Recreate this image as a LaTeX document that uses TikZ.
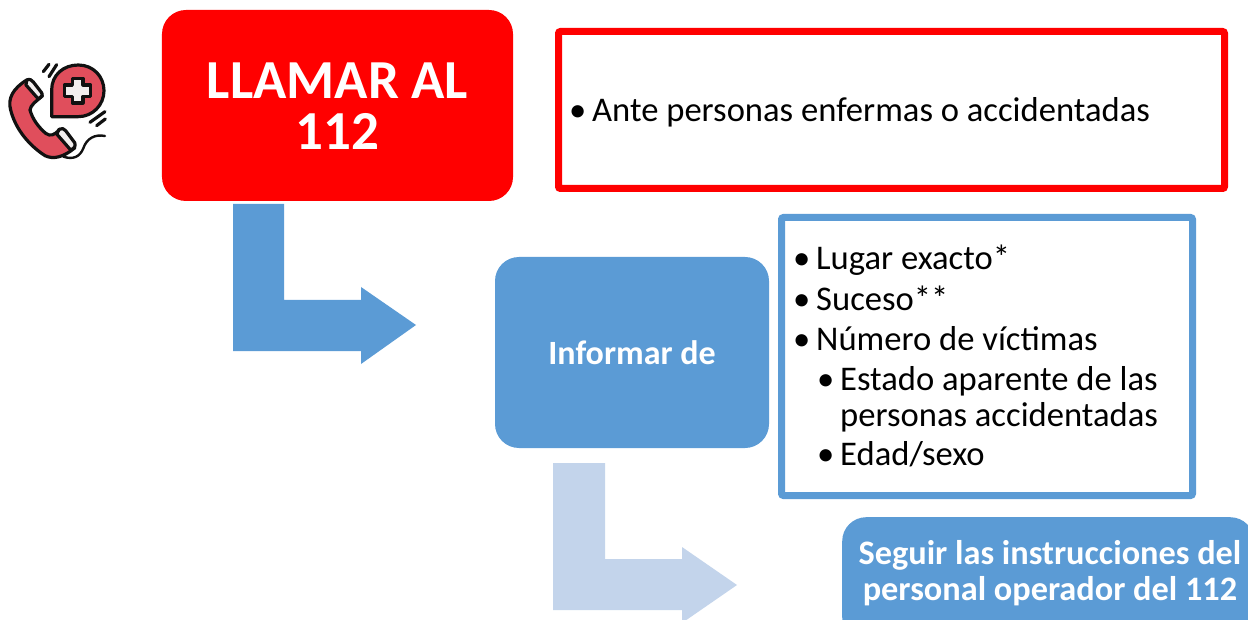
\documentclass[tikz,border=0pt]{standalone}
\usepackage{fontspec}
\setmainfont{Carlito}
\definecolor{bluefill}{HTML}{5B9BD5}
\definecolor{paleblue}{HTML}{C3D4EB}
\definecolor{iconred}{HTML}{E04E5C}
\definecolor{iconink}{HTML}{111111}
\definecolor{iconwhite}{HTML}{F2EEEE}
\tikzset{
  redbox/.style={draw=none,fill=red,rounded corners=24bp,minimum width=351bp,minimum height=191bp,inner sep=0pt,align=center,text=white,font=\fontsize{55bp}{51bp}\selectfont\bfseries},
  bluebox/.style={draw=none,fill=bluefill,rounded corners=24bp,inner sep=0pt,align=center,text=white,font=\fontsize{34bp}{36bp}\selectfont\bfseries},
  framebox/.style={fill=white,line width=7bp,rounded corners=2bp,inner sep=0pt},
  bodytext/.style={anchor=base west,inner sep=0pt,text=black,font=\fontsize{34.6bp}{36bp}\selectfont},
  bendarrow/.style={draw=none},
  iconline/.style={draw=iconink,line width=3.2pt,line join=round,line cap=round},
}
\begin{document}
\begin{tikzpicture}[x=1bp,y=-1bp]
\useasboundingbox (0,0) rectangle (1248,620);
\clip (0,0) rectangle (1248,620);
% bent arrows
\fill[bluefill,bendarrow] (233,204) -- (284,204) -- (284,300) -- (361,300) -- (361,287) -- (416,325) -- (361,364) -- (361,351) -- (233,351) -- cycle;
\fill[paleblue,bendarrow] (553,463) -- (605,463) -- (605,559) -- (682,559) -- (682,547) -- (737,585) -- (682,623) -- (682,610) -- (553,610) -- cycle;
% boxes
\node[redbox] (llamar) at (337.5,105.5) {};
\node[inner sep=0pt,align=center,text=white,font=\fontsize{55bp}{51bp}\selectfont\bfseries] (llamartext) at (337.5,106) {LLAMAR AL\\112};
\node[framebox,draw=red,minimum width=666bp,minimum height=157bp] (redframe) at (891.5,110) {};
\node[bluebox,minimum width=274bp,minimum height=191bp] (informar) at (632,352.5) {Informar de};
\node[framebox,draw=bluefill,minimum width=411bp,minimum height=278bp] (blueframe) at (987,356.5) {};
\node[bluebox,minimum width=412bp,minimum height=124bp,anchor=north west] (seguirbox) at (842,517) {};
\node[anchor=center,inner sep=0pt,align=center,text=white,font=\fontsize{34.3bp}{36bp}\selectfont\bfseries] (seguir) at (1050,573) {Seguir las instrucciones del\\personal operador del 112};
% text
\node[bodytext] (b0) at (569,122) {\textbullet};
\node[bodytext] (t0) at (592,122) {Ante personas enfermas o accidentadas};
\node[bodytext] (b1) at (793,270) {\textbullet};
\node[bodytext] (t1) at (816,270) {Lugar exacto*};
\node[bodytext] (b2) at (793,311) {\textbullet};
\node[bodytext] (t2) at (816,311) {Suceso**};
\node[bodytext] (b3) at (793,351) {\textbullet};
\node[bodytext] (t3) at (816,351) {Número de víctimas};
\node[bodytext] (b4) at (817,390) {\textbullet};
\node[bodytext] (t4) at (840,390) {Estado aparente de las};
\node[bodytext] (t5) at (840,426) {personas accidentadas};
\node[bodytext] (b6) at (817,465) {\textbullet};
\node[bodytext] (t6) at (840,465) {Edad/sexo};
% icon, drawn in the coordinates of a 3x crop
\begin{scope}[shift={(0,60)},x=0.3333bp,y=-0.3333bp]
 % balloon
 \fill[iconred] (155,170) -- (155,90) .. controls (155,45) and (190,15) .. (235,15) .. controls (280,15) and (312,50) .. (312,92) .. controls (312,135) and (278,170) .. (235,170) -- cycle;
 \draw[iconline] (155,170) -- (155,90) .. controls (155,45) and (190,15) .. (235,15) .. controls (280,15) and (312,50) .. (312,92) .. controls (312,135) and (278,170) .. (235,170) -- cycle;
 % cross
 \filldraw[iconline,fill=iconwhite] (217,55) -- (249,55) -- (249,75) -- (272,75) -- (272,109) -- (249,109) -- (249,129) -- (217,129) -- (217,109) -- (193,109) -- (193,75) -- (217,75) -- cycle;
 % handset
 \filldraw[iconline,fill=iconred] (80,60) .. controls (40,85) and (22,115) .. (32,150) .. controls (47,210) and (90,258) .. (135,287) .. controls (160,299) and (190,292) .. (224,264) -- (178,208) .. controls (165,226) and (150,230) .. (137,220) .. controls (112,198) and (97,175) .. (90,150) .. controls (92,135) and (107,125) .. (127,108) -- cycle;
 \filldraw[iconline,fill=iconwhite] (80,60) .. controls (90,56) and (95,60) .. (100,66) -- (124,97) .. controls (129,105) and (127,108) .. (115,117) -- (78,75) -- cycle;
 \filldraw[iconline,fill=iconwhite] (178,208) .. controls (185,203) and (192,206) .. (197,212) -- (224,248) .. controls (228,258) and (224,264) .. (212,270) -- (170,222) -- cycle;
 % cord and wave marks
 \draw[iconline,line width=2.4pt] (190,290) .. controls (220,300) and (240,290) .. (250,265) .. controls (260,235) and (285,222) .. (315,228);
 \draw[iconline] (130,35) -- (147,13);
 \draw[iconline] (147,50) -- (170,14);
 \draw[iconline] (270,187) -- (315,155);
 \draw[iconline] (290,197) -- (316,177);
\end{scope}
\end{tikzpicture}
\end{document}
